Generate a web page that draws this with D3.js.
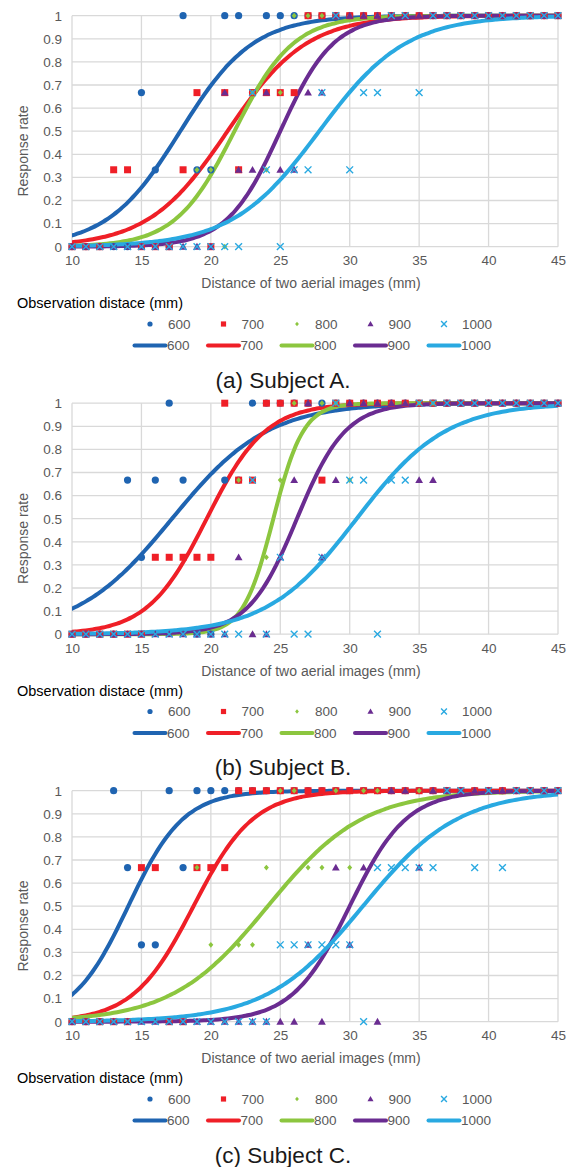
<!DOCTYPE html>
<html>
<head>
<meta charset="utf-8">
<script src="https://cdn.jsdelivr.net/npm/d3@7"></script>
<style>
  body { margin: 0; background: #fff; }
  svg { display: block; font-family: "Liberation Sans", Arial, sans-serif; }
</style>
</head>
<body>
<svg id="chart" width="576" height="1167"></svg>
<script>
// x values of the measurements (mm)
const distances = [10,11,12,13,14,15,16,17,18,19,20,21,22,23,24,25,26,27,28,29,
                   30,31,32,33,34,35,36,37,38,39,40,41,42,43,44,45];
const observation = ["600", "700", "800", "900", "1000"];
const xTicks = [10, 15, 20, 25, 30, 35, 40, 45];
const yTicks = [0, 0.1, 0.2, 0.3, 0.4, 0.5, 0.6, 0.7, 0.8, 0.9, 1];
const captions = ["(a) Subject A.", "(b) Subject B.", "(c) Subject C."];

// subject A response rates, one value per distance
const rateA600  = [0,0,0,0,0, .667,.333,0,1,.333, .333,1,1,.667,1, 1,1,1,1,1, 1,1,1,1,1, 1,1,1,1,1, 1,1,1,1,1, 1];
const rateA700  = [0,0,0,.333,.333, 0,0,0,.333,.667, 0,.667,.333,.667,.667, .667,.667,1,1,1, 1,1,1,1,1, 1,1,1,1,1, 1,1,1,1,1, 1];
const rateA800  = [0,0,0,0,0, 0,0,0,0,.333, .333,0,.333,.667,.333, .667,1,1,1,1, 1,1,1,1,1, 1,1,1,1,1, 1,1,1,1,1, 1];
const rateA900  = [0,0,0,0,0, 0,0,0,0,0, 0,.667,.333,.333,.667, .333,.333,.667,.667,1, 1,1,1,1,1, 1,1,1,1,1, 1,1,1,1,1, 1];
const rateA1000 = [0,0,0,0,0, 0,0,0,0,0, 0,0,0,.667,.333, 0,.333,.333,.667,1, .333,.667,.667,1,1, .667,1,1,1,1, 1,1,1,1,1, 1];

// subject B
const rateB600  = [0,0,0,0,.667, .333,.667,1,.667,0, 0,.667,.667,1,1, 1,1,1,1,1, 1,1,1,1,1, 1,1,1,1,1, 1,1,1,1,1, 1];
const rateB700  = [0,0,0,0,0, 0,.333,.333,.333,.333, .333,1,.667,.667,1, 1,1,1,.667,1, 1,1,1,1,1, 1,1,1,1,1, 1,1,1,1,1, 1];
const rateB800  = [0,0,0,0,0, 0,0,0,0,0, 0,0,.667,0,.333, .667,1,1,1,1, .667,1,1,1,1, 1,1,1,1,1, 1,1,1,1,1, 1];
const rateB900  = [0,0,0,0,0, 0,0,0,0,0, 0,0,.333,0,0, .333,.667,1,.333,.667, 1,1,1,1,1, .667,.667,1,1,1, 1,1,1,1,1, 1];
const rateB1000 = [0,0,0,0,0, 0,0,0,0,0, 0,0,0,.667,0, .333,0,0,.333,1, .667,.667,0,.667,.667, 1,1,1,1,1, 1,1,1,1,1, 1];

// subject C
const rateC600  = [0,0,0,1,.667, .333,.333,1,.667,1, 1,1,1,1,1, 1,1,1,1,1, 1,1,1,1,1, 1,1,1,1,1, 1,1,1,1,1, 1];
const rateC700  = [0,0,0,0,0, .667,.667,0,0,.667, .667,.667,1,1,1, 1,1,1,1,1, 1,1,1,1,1, 1,1,1,1,1, 1,1,1,1,1, 1];
const rateC800  = [0,0,0,0,0, 0,0,0,0,.667, .333,0,.333,.333,.667, 1,1,.667,.667,1, .667,1,1,1,1, 1,1,1,1,1, 1,1,1,1,1, 1];
const rateC900  = [0,0,0,0,0, 0,0,0,0,0, 0,0,0,0,0, 0,0,.333,0,.667, .333,.667,0,1,1, .667,1,1,1,1, 1,1,1,1,1, 1];
const rateC1000 = [0,0,0,0,0, 0,0,0,0,0, 0,0,0,0,0, .333,.333,.333,.333,.333, .333,0,.667,.667,.667, .667,.667,1,1,.667, 1,.667,1,1,1, 1];

// logistic fit: 50% point (mm) and slope (1/mm)
const fitMidA = [17.8, 21.2, 21.7, 25.0, 27.8];
const fitSlopeA = [0.38, 0.35, 0.47, 0.52, 0.32];
const fitMidB = [17.2, 19.7, 24.5, 26.2, 30.5];
const fitSlopeB = [0.29, 0.47, 0.92, 0.57, 0.31];
const fitMidC = [14.05, 18.75, 24.1, 30.0, 30.95];
const fitSlopeC = [0.50, 0.46, 0.29, 0.485, 0.29];

const panels = [
  {rates: [rateA600, rateA700, rateA800, rateA900, rateA1000], mid: fitMidA, slope: fitSlopeA},
  {rates: [rateB600, rateB700, rateB800, rateB900, rateB1000], mid: fitMidB, slope: fitSlopeB},
  {rates: [rateC600, rateC700, rateC800, rateC900, rateC1000], mid: fitMidC, slope: fitSlopeC}
];

const colors = ["#1f64b1", "#ef1f27", "#8cc63f", "#6a2c91", "#29a9e1"];
const panelH = 387.5;

const svg = d3.select("#chart");
const x = d3.scaleLinear().domain([10, 45]).range([72, 558]);
const y = d3.scaleLinear().domain([0, 1]).range([246.7, 15.7]);

// marker shapes, centred on 0,0
const markerPath = [
  r => d3.symbol(d3.symbolCircle, Math.PI * r * r)(),
  r => `M${-r},${-r}h${2*r}v${2*r}h${-2*r}Z`,
  r => `M0,${-r}L${r*0.85},0L0,${r}L${-r*0.85},0Z`,
  r => `M0,${-r*1.05}L${r*1.05},${r*0.8}L${-r*1.05},${r*0.8}Z`,
  r => `M${-r},${-r}L${r},${r}M${-r},${r}L${r},${-r}`
];
const markerSize = [3.6, 3.5, 2.9, 3.7, 3.4];
const legendSize = [2.6, 2.6, 2.2, 2.9, 2.9];

function drawMarker(sel, i, r) {
  sel.attr("d", markerPath[i](r))
    .attr("fill", i === 4 ? "none" : colors[i])
    .attr("stroke", i === 4 ? colors[i] : "none")
    .attr("stroke-width", 1.4);
}

panels.forEach((p, pi) => {
  const g = svg.append("g").attr("transform", "translate(0," + (pi * panelH) + ")");

  // grid
  g.append("g").selectAll("line").data(yTicks).enter().append("line")
    .attr("x1", x(10)).attr("x2", x(45))
    .attr("y1", d => y(d)).attr("y2", d => y(d))
    .attr("stroke", "#d9d9d9").attr("stroke-width", 1.3);
  g.append("g").selectAll("line").data(xTicks).enter().append("line")
    .attr("x1", d => x(d)).attr("x2", d => x(d))
    .attr("y1", y(0)).attr("y2", y(1))
    .attr("stroke", "#d9d9d9").attr("stroke-width", 1.3);

  // axes labels
  const yAxis = g.append("g").attr("transform", "translate(" + x(10) + ",0)")
    .call(d3.axisLeft(y).tickValues(yTicks).tickSize(0).tickPadding(10).tickFormat(d3.format("")));
  const xAxis = g.append("g").attr("transform", "translate(0," + y(0) + ")")
    .call(d3.axisBottom(x).tickValues(xTicks).tickSize(0).tickPadding(9));
  [yAxis, xAxis].forEach(a => {
    a.select(".domain").remove();
    a.selectAll("text").attr("fill", "#595959").style("font-size", "13.5px")
      .style("font-family", "'Liberation Sans', Arial, sans-serif");
  });

  g.append("text")
    .attr("transform", "translate(23,151) rotate(-90)")
    .attr("text-anchor", "middle").attr("dy", "0.35em")
    .attr("fill", "#595959").style("font-size", "14px")
    .text("Response rate");
  g.append("text")
    .attr("x", 311).attr("y", 288).attr("text-anchor", "middle")
    .attr("fill", "#595959").style("font-size", "14px")
    .text("Distance of two aerial images (mm)");

  // fitted curves
  const clip = "clip" + pi;
  g.append("clipPath").attr("id", clip).append("rect")
    .attr("x", x(10)).attr("y", y(1) - 10).attr("width", x(45) - x(10)).attr("height", y(0) - y(1) + 20);
  const fineX = d3.range(10, 45.01, 0.25);
  const line = d3.line().x(d => x(d[0])).y(d => y(d[1])).curve(d3.curveMonotoneX);
  observation.forEach((o, i) => {
    const pts = fineX.map(v => [v, 1 / (1 + Math.exp(-p.slope[i] * (v - p.mid[i])))]);
    g.append("path").datum(pts)
      .attr("clip-path", "url(#" + clip + ")")
      .attr("d", line).attr("fill", "none")
      .attr("stroke", colors[i]).attr("stroke-width", 4).attr("stroke-linecap", "round");
  });

  // measured points
  observation.forEach((o, i) => {
    g.append("g").selectAll("path")
      .data(distances.map((d, k) => [d, p.rates[i][k]]))
      .enter().append("path")
      .attr("transform", d => "translate(" + x(d[0]) + "," + y(d[1]) + ")")
      .call(drawMarker, i, markerSize[i]);
  });

  // legend
  g.append("text").attr("x", 17).attr("y", 308)
    .attr("fill", "#000").style("font-size", "14.5px")
    .text("Observation distace (mm)");
  const leg = g.append("g");
  observation.forEach((o, i) => {
    const lx = 150 + i * 73.5;
    leg.append("path").attr("transform", "translate(" + lx + ",324)").call(drawMarker, i, legendSize[i]);
    leg.append("text").attr("x", lx + 18).attr("y", 324).attr("dy", "0.35em")
      .attr("fill", "#595959").style("font-size", "13.5px").text(o);
    leg.append("line").attr("x1", lx - 15.5).attr("x2", lx + 15.5)
      .attr("y1", 345.5).attr("y2", 345.5)
      .attr("stroke", colors[i]).attr("stroke-width", 4).attr("stroke-linecap", "round");
    leg.append("text").attr("x", lx + 17).attr("y", 345.5).attr("dy", "0.35em")
      .attr("fill", "#595959").style("font-size", "13.5px").text(o);
  });

  g.append("text").attr("x", 283).attr("y", 387.5).attr("text-anchor", "middle")
    .attr("fill", "#1a1a1a").style("font-size", "22.5px")
    .text(captions[pi]);
});
</script>
</body>
</html>
